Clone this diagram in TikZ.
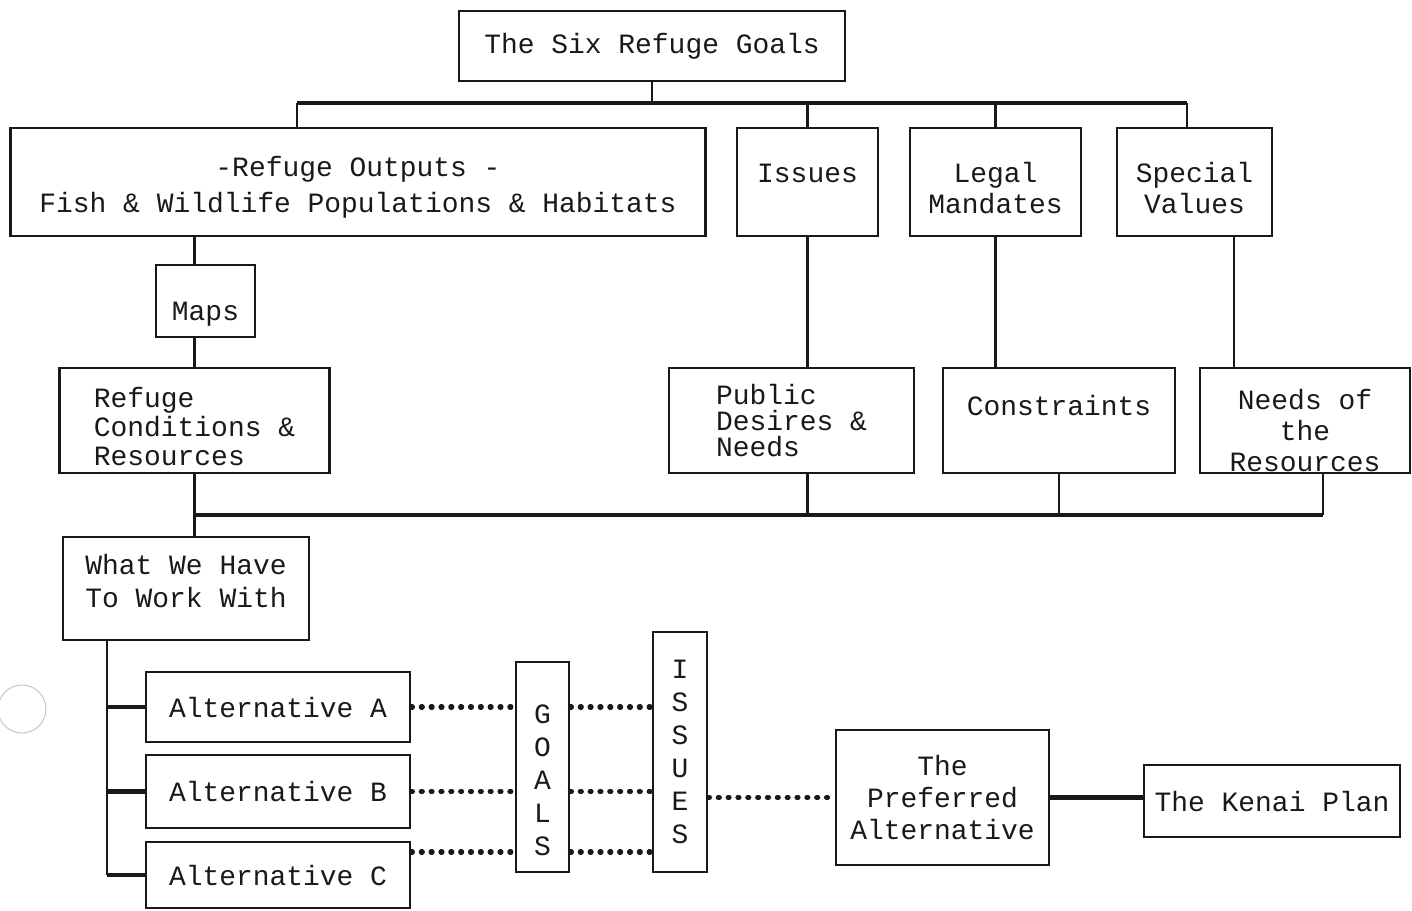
\documentclass[tikz,border=0pt]{standalone}
\usepackage{fontspec}
\setmainfont{Liberation Mono}
\usepackage{xcolor}
\usetikzlibrary{positioning}
\definecolor{inkBlack}{RGB}{25,25,25}
\definecolor{scanGray}{RGB}{200,200,200}

\begin{document}
\begin{tikzpicture}[
    x=0.2mm, y=-0.2mm,
    every node/.style={font=\fontsize{15.9}{18}\selectfont, text=inkBlack},
    box/.style 2 args={rectangle, draw=inkBlack, line width=1.6pt, align=center, inner sep=0pt, minimum width=#1*0.2mm, minimum height=#2*0.2mm},
    lead/.style={font=\fontsize{15.9}{#1}\selectfont},
    wire/.style={line width=1.3pt, draw=inkBlack},
    bus/.style={line width=2.6pt, draw=inkBlack},
    dots/.style={line width=2.9pt, draw=inkBlack, line cap=round, dash pattern=on 0.6pt off 5pt}
]
\useasboundingbox (0,0) rectangle (1412,910);

% top row
\node[box={386}{70}] (goals) at (652,46) {The Six Refuge Goals};
\node[box={695}{108}, lead=20.5pt, text height=38pt] (outputs) at (358,182) {-Refuge Outputs -\\Fish \& Wildlife Populations \& Habitats};
\node[box={141}{108}, lead=17.6pt, text height=36.2pt] (issues) at (807.5,182) {Issues\\~};
\node[box={171}{108}, lead=17.6pt, text height=36.2pt] (legal) at (995.5,182) {Legal\\Mandates};
\node[box={155}{108}, lead=17.6pt, text height=36.2pt] (special) at (1194.5,182) {Special\\Values};

% middle row
\node[box={99}{72}, text height=26pt, text depth=4pt] (maps) at (205.5,301) {Maps};
\node[box={270}{105}, align=left, lead=16.5pt, text height=51.6pt] (refcond) at (194.5,420.5) {Refuge\\Conditions \&\\Resources};
\node[box={245}{105}, align=left, lead=15pt] (public) at (791.5,420.5) {Public\\Desires \&\\Needs};
\node[box={232}{105}, text height=9pt, text depth=15pt] (constraints) at (1059,420.5) {Constraints};
\node[box={210}{105}, lead=17.6pt, text height=58.4pt] (needs) at (1305,420.5) {Needs of\\the\\Resources};

% lower part
\node[box={246}{103}, lead=18.8pt, text height=21.5pt] (whatwe) at (186,588.5) {What We Have\\To Work With};
\node[box={264}{70}] (altA) at (278,707) {Alternative A};
\node[box={264}{73}] (altB) at (278,791.5) {Alternative B};
\node[box={264}{66}] (altC) at (278,875) {Alternative C};
\node[box={53}{210}, lead=18.8pt, text height=100.6pt] (goalsbar) at (542.5,767) {G\\O\\A\\L\\S};
\node[box={54}{240}, lead=18.8pt] (issuesbar) at (680,752) {I\\S\\S\\U\\E\\S};
\node[box={213}{135}, lead=18.2pt] (preferred) at (942.5,797.5) {The\\Preferred\\Alternative};
\node[box={256}{72}] (kenai) at (1272,801) {The Kenai Plan};

\coordinate (topL) at (297,103);
\coordinate (topR) at (1187,103);
\coordinate (botL) at (194.5,515);
\coordinate (botR) at (1323,515);
\coordinate (needsStem) at (1234,236);
\coordinate (spine) at (107,640);
\coordinate (rowC) at (410,852);

% scanner hole
\draw[scanGray, line width=0.6pt] (22,709) circle[radius=4.8mm];

\draw[wire] (goals.south) -- (goals.south |- topL);
\draw[bus] (topL) -- (topR);
\draw[wire] (topL) -- (topL |- outputs.north);
\draw[wire] (issues.north |- topL) -- (issues.north);
\draw[wire] (legal.north |- topL) -- (legal.north);
\draw[wire] (topR) -- (topR |- special.north);
\draw[wire] (outputs.south -| refcond.north) -- (maps.north -| refcond.north);
\draw[wire] (maps.south -| refcond.north) -- (refcond.north);
\draw[wire] (issues.south) -- (issues.south |- public.north);
\draw[wire] (legal.south) -- (legal.south |- constraints.north);
\draw[wire] (needsStem) -- (needsStem |- needs.north);
\draw[wire] (refcond.south) -- (refcond.south |- whatwe.north);
\draw[bus] (botL) -- (botR);
\draw[wire] (public.south -| issues.south) -- (issues.south |- botL);
\draw[wire] (constraints.south) -- (constraints.south |- botL);
\draw[wire] (botR |- needs.south) -- (botR);
\draw[wire] (spine) -- (spine |- altC.west);
\draw[bus] (spine |- altA.west) -- (altA.west);
\draw[bus] (spine |- altB.west) -- (altB.west);
\draw[bus] (spine |- altC.west) -- (altC.west);
\draw[dots] (altA.east) -- (goalsbar.west |- altA.east);
\draw[dots] (goalsbar.east |- altA.east) -- (issuesbar.west |- altA.east);
\draw[dots] (altB.east) -- (goalsbar.west |- altB.east);
\draw[dots] (goalsbar.east |- altB.east) -- (issuesbar.west |- altB.east);
\draw[dots] (altC.east |- rowC) -- (goalsbar.west |- rowC);
\draw[dots] (goalsbar.east |- rowC) -- (issuesbar.west |- rowC);
\draw[dots] (issuesbar.east |- preferred.west) -- (preferred.west);
\draw[bus] (preferred.east) -- (kenai.west |- preferred.east);
\end{tikzpicture}
\end{document}
